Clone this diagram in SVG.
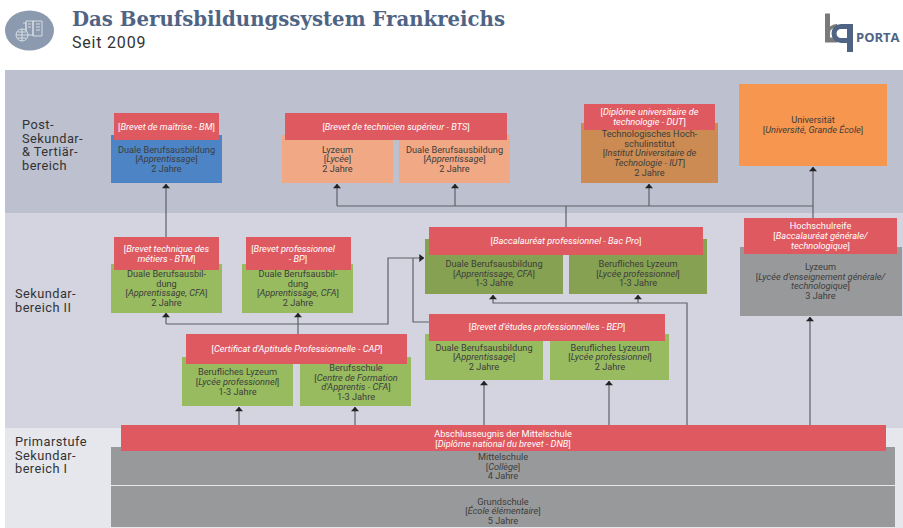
<svg xmlns="http://www.w3.org/2000/svg" width="903" height="528" viewBox="0 0 903 528">
<style>
text{font-family:Roboto,"Liberation Sans",sans-serif}
.t{font-size:9.2px;fill:#3d3d3d;text-anchor:middle}
.w{font-size:9.2px;fill:#fff;text-anchor:middle}
.b{font-size:12.8px;fill:#333;letter-spacing:.45px}
.i{font-style:italic}
.red{fill:#df5960}
.lg{fill:#98bb5f}
.dg{fill:#86a151}
.gr{fill:#98999a}
.pe{fill:#f0a984}
.ln{fill:none;stroke:#5f6068;stroke-width:1.2}
</style>
<defs>
<marker id="a" viewBox="0 0 8 5" refX="4" refY="0.3" markerWidth="8" markerHeight="5" markerUnits="userSpaceOnUse"><path d="M0 4.600L4 0L8 4.600z" fill="#222"/></marker>
<marker id="r" viewBox="0 0 5 8" refX="4.700" refY="4" markerWidth="5" markerHeight="8" markerUnits="userSpaceOnUse"><path d="M0 0L5 4L0 8z" fill="#222"/></marker>
</defs>
<rect width="903" height="528" fill="#fff"/>
<g id="bands">
<rect x="5" y="70" width="898" height="143" fill="#bcc0cf"/>
<rect x="5" y="213" width="898" height="215" fill="#d3d4df"/>
<rect x="5" y="428" width="898" height="100" fill="#e6e7ed"/>
</g>
<g id="header">
<ellipse cx="29.500" cy="30.500" rx="24.500" ry="20" fill="#8b9aae"/>
<g fill="none" stroke="#e8ecf1" stroke-width=".8">
<path d="M26 21h7v14h-7zM33 21h9v15h-9zM23 23h3v12M36 24h4M36 27h4M36 30h4M28 24h3M28 27h3"/>
<circle cx="22" cy="35" r="6" fill="#8b9aae"/>
<path d="M16 35h12M22 29v12M17.500 32h9M17.500 38h9"/>
</g>
<text x="72" y="26" font-size="20" font-weight="700" fill="#4f6484" textLength="433" lengthAdjust="spacingAndGlyphs" style="font-family:'DejaVu Serif',serif">Das Berufsbildungssystem Frankreichs</text>
<text x="72" y="48" font-size="16" fill="#333" letter-spacing=".8">Seit 2009</text>
</g>
<g id="logo">
<path d="M825 13.500h5v13a9.500 9.500 0 0 1 7-2.500v5a4.500 4.500 0 0 0-7 4v4.500h7v5h-12z" fill="#7a7a7a"/>
<path d="M841 24h12v28h-6v-9h-6a9.500 9.500 0 0 1 0-19zm0 5a4.500 4.500 0 0 0 0 9h6v-9z" fill="#4f6484" fill-rule="evenodd"/>
<text x="856" y="42" font-size="13" font-weight="700" fill="#4f6484" style="font-family:'Open Sans',sans-serif">PORTA</text>
</g>
<g id="connectors">
<path class="ln" d="M166 237V184" marker-end="url(#a)"/>
<path class="ln" d="M337 206V184" marker-end="url(#a)"/>
<path class="ln" d="M455 206V184" marker-end="url(#a)"/>
<path class="ln" d="M649 206V184" marker-end="url(#a)"/>
<path class="ln" d="M813 222V167" marker-end="url(#a)"/>
<path class="ln" d="M337 206H813" stroke-width="1.600"/>
<path class="ln" d="M566 206V227"/>
<path class="ln" d="M166 324V313" marker-end="url(#a)"/>
<path class="ln" d="M166 324H388V258H424" marker-end="url(#r)"/>
<path class="ln" d="M298 334V313" marker-end="url(#a)"/>
<path class="ln" d="M429 322H413V258"/>
<path class="ln" d="M239 425V407" marker-end="url(#a)"/>
<path class="ln" d="M355 425V407" marker-end="url(#a)"/>
<path class="ln" d="M484 425V381" marker-end="url(#a)"/>
<path class="ln" d="M609 425V381" marker-end="url(#a)"/>
<path class="ln" d="M687 425V303H493V295" marker-end="url(#a)"/>
<path class="ln" d="M638 303V295" marker-end="url(#a)"/>
<path class="ln" d="M810 425V317" marker-end="url(#a)"/>
</g>
<g id="labels">
<text class="b" x="22" y="129">Post-</text><text class="b" x="22" y="142.500">Sekundar-</text><text class="b" x="22" y="156">&amp; Tertiär-</text><text class="b" x="22" y="169.500">bereich</text>
<text class="b" x="15" y="298">Sekundar-</text><text class="b" x="15" y="311.500">bereich II</text>
<text class="b" x="15" y="446">Primarstufe</text><text class="b" x="15" y="459.500">Sekundar-</text><text class="b" x="15" y="473">bereich I</text>
</g>
<g id="node-dba-bm"><rect x="111" y="135" width="111" height="48" fill="#4c84c5"/>
<text class="t" x="166.500" y="152.500">Duale Berufsausbildung</text><text class="t" x="166.500" y="162">[<tspan class="i">Apprentissage</tspan>]</text><text class="t" x="166.500" y="172">2 Jahre</text></g>
<g id="node-bm"><rect class="red" x="114" y="113" width="105" height="27"/><text class="w" x="166.500" y="130">[<tspan class="i">Brevet de maîtrise - BM</tspan>]</text></g>
<g id="node-lyzeum-bts"><rect class="pe" x="282" y="135" width="111" height="48"/>
<text class="t" x="337.500" y="152.500">Lyzeum</text><text class="t" x="337.500" y="162">[<tspan class="i">Lycée</tspan>]</text><text class="t" x="337.500" y="172">2 Jahre</text></g>
<g id="node-dba-bts"><rect class="pe" x="399" y="135" width="111" height="48"/>
<text class="t" x="454.500" y="152.500">Duale Berufsausbildung</text><text class="t" x="454.500" y="162">[<tspan class="i">Apprentissage</tspan>]</text><text class="t" x="454.500" y="172">2 Jahre</text></g>
<g id="node-bts"><rect class="red" x="285" y="113" width="222" height="27"/><text class="w" x="396" y="130">[<tspan class="i">Brevet de technicien supérieur - BTS</tspan>]</text></g>
<g id="node-iut"><rect x="581" y="123" width="137" height="60" fill="#cb8b52"/>
<text class="t" x="649.500" y="137">Technologisches Hoch-</text><text class="t" x="649.500" y="146.500">schulinstitut</text><text class="t" x="649.500" y="156">[<tspan class="i">Institut Universitaire de</tspan></text><text class="t" x="649.500" y="166"><tspan class="i">Technologie - IUT</tspan>]</text><text class="t" x="649.500" y="175.500">2 Jahre</text></g>
<g id="node-dut"><rect class="red" x="584" y="104" width="131" height="26"/><text class="w" x="649.500" y="115">[<tspan class="i">Diplôme universitaire de</tspan></text><text class="w" x="649.500" y="125"><tspan class="i">technologie - DUT</tspan>]</text></g>
<g id="node-uni"><rect x="739" y="84" width="148" height="82" fill="#f7964f"/>
<text class="t" x="813" y="123">Universität</text><text class="t" x="813" y="133">[<tspan class="i">Université, Grande École</tspan>]</text></g>
<g id="node-dba-btm"><rect class="lg" x="111" y="264" width="111" height="49"/>
<text class="t" x="166.500" y="277">Duale Berufsausbil-</text><text class="t" x="166.500" y="286.500">dung</text><text class="t" x="166.500" y="296">[<tspan class="i">Apprentissage, CFA</tspan>]</text><text class="t" x="166.500" y="306">2 Jahre</text></g>
<g id="node-btm"><rect class="red" x="114" y="237" width="105" height="33"/><text class="w" x="166.500" y="252">[<tspan class="i">Brevet technique des</tspan></text><text class="w" x="166.500" y="261.500"><tspan class="i">métiers - BTM</tspan>]</text></g>
<g id="node-dba-bp"><rect class="lg" x="242" y="264" width="111" height="49"/>
<text class="t" x="298" y="277">Duale Berufsausbil-</text><text class="t" x="298" y="286.500">dung</text><text class="t" x="298" y="296">[<tspan class="i">Apprentissage, CFA</tspan>]</text><text class="t" x="298" y="306">2 Jahre</text></g>
<g id="node-bp"><rect class="red" x="246" y="237" width="105" height="33"/><text class="w" x="293" y="252">[<tspan class="i">Brevet professionnel</tspan></text><text class="w" x="298" y="261.500"><tspan class="i">- BP</tspan>]</text></g>
<g id="node-lp-cap"><rect class="lg" x="182" y="357" width="111" height="49"/>
<text class="t" x="237.500" y="375">Berufliches Lyzeum</text><text class="t" x="237.500" y="385">[<tspan class="i">Lycée professionnel</tspan>]</text><text class="t" x="237.500" y="395">1-3 Jahre</text></g>
<g id="node-cfa-cap"><rect class="lg" x="300" y="357" width="111" height="49"/>
<text class="t" x="356" y="371">Berufsschule</text><text class="t" x="356" y="380.500">[<tspan class="i">Centre de Formation</tspan></text><text class="t" x="356" y="390"><tspan class="i">d'Apprentis - CFA</tspan>]</text><text class="t" x="356" y="400">1-3 Jahre</text></g>
<g id="node-cap"><rect class="red" x="186" y="334" width="221" height="30"/><text class="w" x="297" y="352">[<tspan class="i">Certificat d'Aptitude Professionnelle - CAP</tspan>]</text></g>
<g id="node-dba-bac"><rect class="dg" x="425" y="239" width="138" height="55"/>
<text class="t" x="494" y="267">Duale Berufsausbildung</text><text class="t" x="494" y="276.500">[<tspan class="i">Apprentissage, CFA</tspan>]</text><text class="t" x="494" y="286">1-3 Jahre</text></g>
<g id="node-lp-bac"><rect class="dg" x="569" y="239" width="138" height="55"/>
<text class="t" x="638" y="267">Berufliches Lyzeum</text><text class="t" x="638" y="276.500">[<tspan class="i">Lycée professionnel</tspan>]</text><text class="t" x="638" y="286">1-3 Jahre</text></g>
<g id="node-bac"><rect class="red" x="429" y="227" width="274" height="28"/><text class="w" x="566" y="244">[<tspan class="i">Baccalauréat professionnel - Bac Pro</tspan>]</text></g>
<g id="node-dba-bep"><rect class="lg" x="425" y="334" width="118" height="46"/>
<text class="t" x="484" y="350.500">Duale Berufsausbildung</text><text class="t" x="484" y="360">[<tspan class="i">Apprentissage</tspan>]</text><text class="t" x="484" y="370">2 Jahre</text></g>
<g id="node-lp-bep"><rect class="lg" x="550" y="334" width="119" height="46"/>
<text class="t" x="610" y="350.500">Berufliches Lyzeum</text><text class="t" x="610" y="360">[<tspan class="i">Lycée professionnel</tspan>]</text><text class="t" x="610" y="370">2 Jahre</text></g>
<g id="node-bep"><rect class="red" x="429" y="314" width="236" height="27"/><text class="w" x="547" y="330">[<tspan class="i">Brevet d'études professionnelles - BEP</tspan>]</text></g>
<g id="node-lyzeum-gen"><rect class="gr" x="740" y="247" width="162" height="69"/>
<text class="t" x="820.500" y="270">Lyzeum</text><text class="t" x="820.500" y="279.500">[<tspan class="i">Lycée d'enseignement générale/</tspan></text><text class="t" x="820.500" y="289"><tspan class="i">technologique</tspan>]</text><text class="t" x="820.500" y="299">3 Jahre</text></g>
<g id="node-hochschulreife"><rect class="red" x="744" y="218" width="153" height="36"/>
<text class="w" x="820.500" y="228.500">Hochschulreife</text><text class="w" x="820.500" y="238.500">[<tspan class="i">Baccalauréat générale/</tspan></text><text class="w" x="820.500" y="248.500"><tspan class="i">technologique</tspan>]</text></g>
<g id="node-mittelschule"><rect class="gr" x="111" y="447" width="784" height="38"/>
<text class="t" x="503" y="460">Mittelschule</text><text class="t" x="503" y="469.500">[<tspan class="i">Collège</tspan>]</text><text class="t" x="503" y="479">4 Jahre</text></g>
<g id="node-grundschule"><rect class="gr" x="111" y="486" width="784" height="41"/>
<text class="t" x="503" y="504.500">Grundschule</text><text class="t" x="503" y="514">[<tspan class="i">École élémentaire</tspan>]</text><text class="t" x="503" y="524">5 Jahre</text></g>
<g id="node-dnb"><rect class="red" x="121" y="425" width="765" height="26"/>
<text class="w" x="503" y="436.500">Abschlusseugnis der Mittelschule</text><text class="w" x="503" y="446.500">[<tspan class="i">Diplôme national du brevet - DNB</tspan>]</text></g>
</svg>
